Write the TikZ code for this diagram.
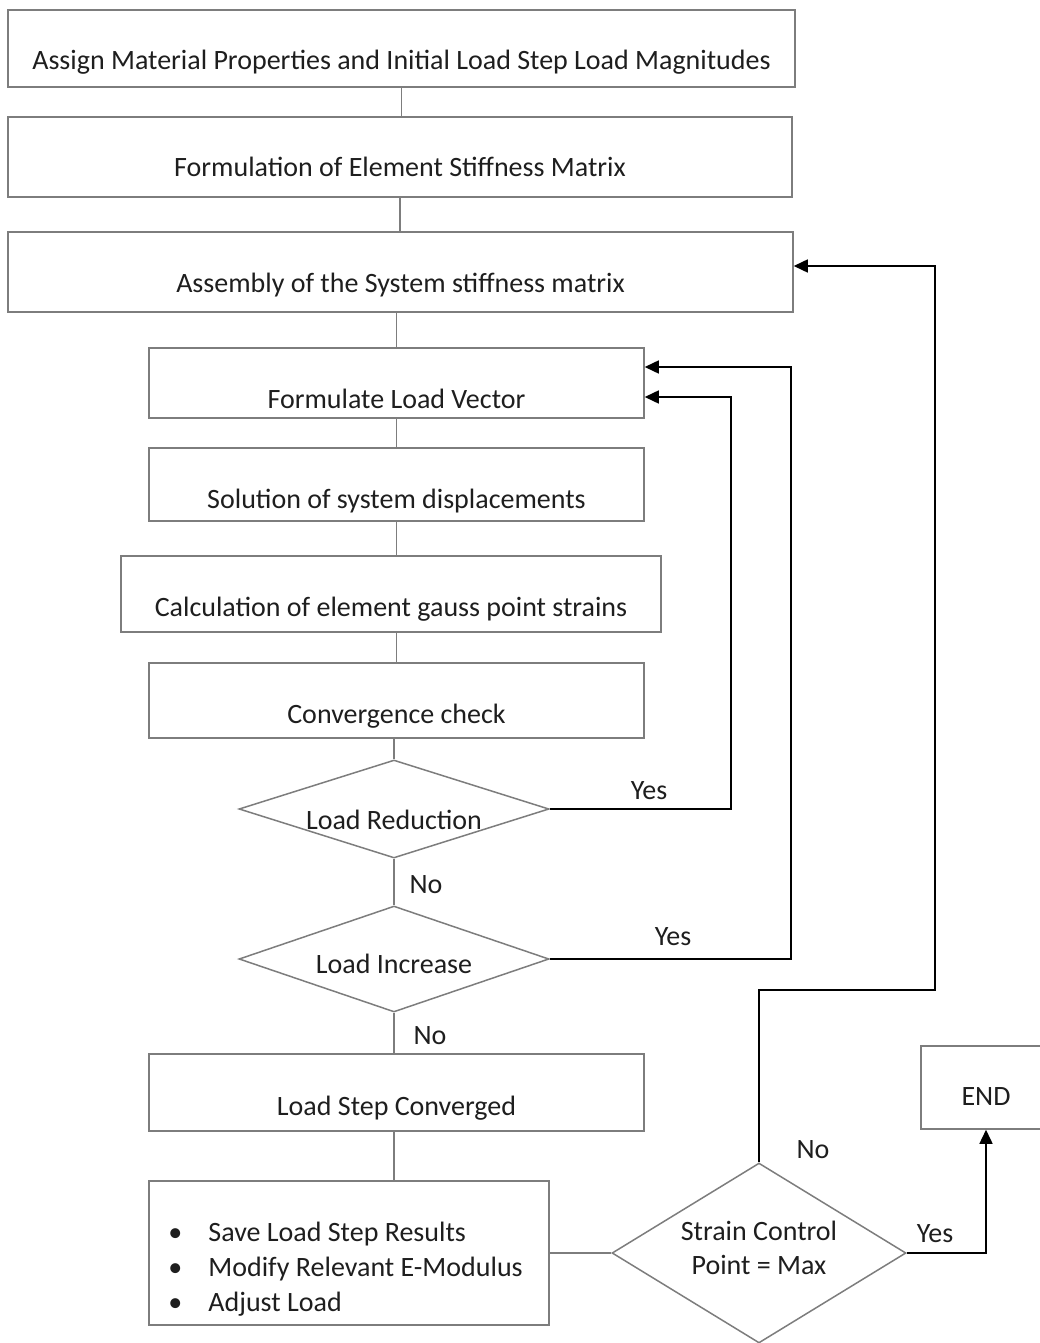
\documentclass[tikz,border=0pt]{standalone}
\usepackage{fontspec}
\setmainfont{Carlito}
\usetikzlibrary{arrows.meta,calc,positioning,shapes.geometric}
\definecolor{linegray}{RGB}{125,125,125}
\definecolor{textgray}{RGB}{30,30,30}
\begin{document}
\begin{tikzpicture}[x=1pt,y=-1pt,>={Triangle[length=14pt,width=13pt]},
	every node/.style={font=\fontsize{28}{33}\selectfont,text=textgray},
	box/.style={draw=linegray,line width=1.5pt,inner sep=0pt},
	dec/.style={diamond,draw=linegray,line width=1.5pt,inner sep=0pt,aspect=3},
	lift/.style={text height=#1,text depth=0pt},
	link/.style={draw=linegray,line width=1.5pt},
	back/.style={->,line width=1.5pt,black}]
	\useasboundingbox (0,0) rectangle (1040,1343);
	% main column
	\node[box,lift=43pt,minimum width=787pt,minimum height=77pt] (assign) at (401.5,48.5) {Assign Material Properties and Initial Load Step Load Magnitudes};
	\node[box,lift=40pt,minimum width=784pt,minimum height=80pt] (element) at (400,157) {Formulation of Element Stiffness Matrix};
	\node[box,lift=40pt,minimum width=785pt,minimum height=80pt] (system) at (400.5,272) {Assembly of the System stiffness matrix};
	\node[box,lift=50pt,minimum width=495pt,minimum height=70pt] (vector) at (396.5,383) {Formulate Load Vector};
	\node[box,lift=47pt,minimum width=495pt,minimum height=73pt] (displ) at (396.5,484.5) {Solution of system displacements};
	\node[box,lift=44pt,minimum width=540pt,minimum height=76pt] (strains) at (391,594) {Calculation of element gauss point strains};
	\node[box,lift=45pt,minimum width=495pt,minimum height=75pt] (check) at (396.5,700.5) {Convergence check};
	\node[dec,aspect=3.2,lift=40pt,minimum width=310pt,minimum height=98pt] (reduce) at (394,809) {Load Reduction};
	\node[dec,lift=28pt,minimum width=310pt,minimum height=106pt] (increase) at (394,959) {Load Increase};
	\node[box,lift=45pt,minimum width=495pt,minimum height=77pt] (converged) at (396.5,1092.5) {Load Step Converged};
	\node[box,minimum width=400pt,minimum height=144pt,
		label={[name=results,anchor=west,align=left,inner sep=0pt,xshift=20pt,yshift=-16pt,font=\fontsize{28}{35}\selectfont]west:{%
			\makebox[40pt][l]{\textbullet}Save Load Step Results\\
			\makebox[40pt][l]{\textbullet}Modify Relevant E-Modulus\\
			\makebox[40pt][l]{\textbullet}Adjust Load}}] (save) at (349,1253) {};
	\node[dec,minimum width=294pt,minimum height=180pt,
		label={[name=maxtext,align=center,inner sep=0pt,yshift=5pt,font=\fontsize{28}{34}\selectfont]center:{Strain Control\\Point = Max}}] (strain) at (759,1253) {};
	\node[box,lift=35pt,minimum width=130pt,minimum height=83pt] (finish) at (986,1087.5) {END};
	% plain links
	\draw[link] (assign.south) -- (assign.south |- element.north);
	\draw[link] (element.south) -- (element.south |- system.north);
	\draw[link] (vector.north |- system.south) -- (vector.north);
	\draw[link] (vector.south) -- (displ.north);
	\draw[link] (displ.south) -- (displ.south |- strains.north);
	\draw[link] (check.north |- strains.south) -- (check.north);
	\draw[link] (reduce.north |- check.south) -- (reduce.north);
	\draw[link] (reduce.south) -- (increase.north);
	\draw[link] (increase.south) -- (increase.south |- converged.north);
	\draw[link] (increase.south |- converged.south) -- (increase.south |- save.north);
	\draw[link] (save.east) -- (strain.west);
	% feedback arrows
	\coordinate (r1) at (731,397);
	\coordinate (i1) at (791,367);
	\coordinate (s1) at (935,990);
	\coordinate (s2) at (935,266);
	\draw[back] (reduce.east) -| (r1) -- (r1 -| vector.east);
	\draw[back] (increase.east) -| (i1) -- (i1 -| vector.east);
	\draw[back] (strain.north) |- (s1) -- (s2) -- (s2 -| system.east);
	\draw[back] (strain.east) -| (finish.south);
	% labels
	\node (yes1) at (649,791) {Yes};
	\node (yes2) at (673,937) {Yes};
	\node (no1) at (426,885) {No};
	\node (no2) at (430,1036) {No};
	\node (no3) at (813,1150) {No};
	\node (yes3) at (935,1234) {Yes};
\end{tikzpicture}
\end{document}
